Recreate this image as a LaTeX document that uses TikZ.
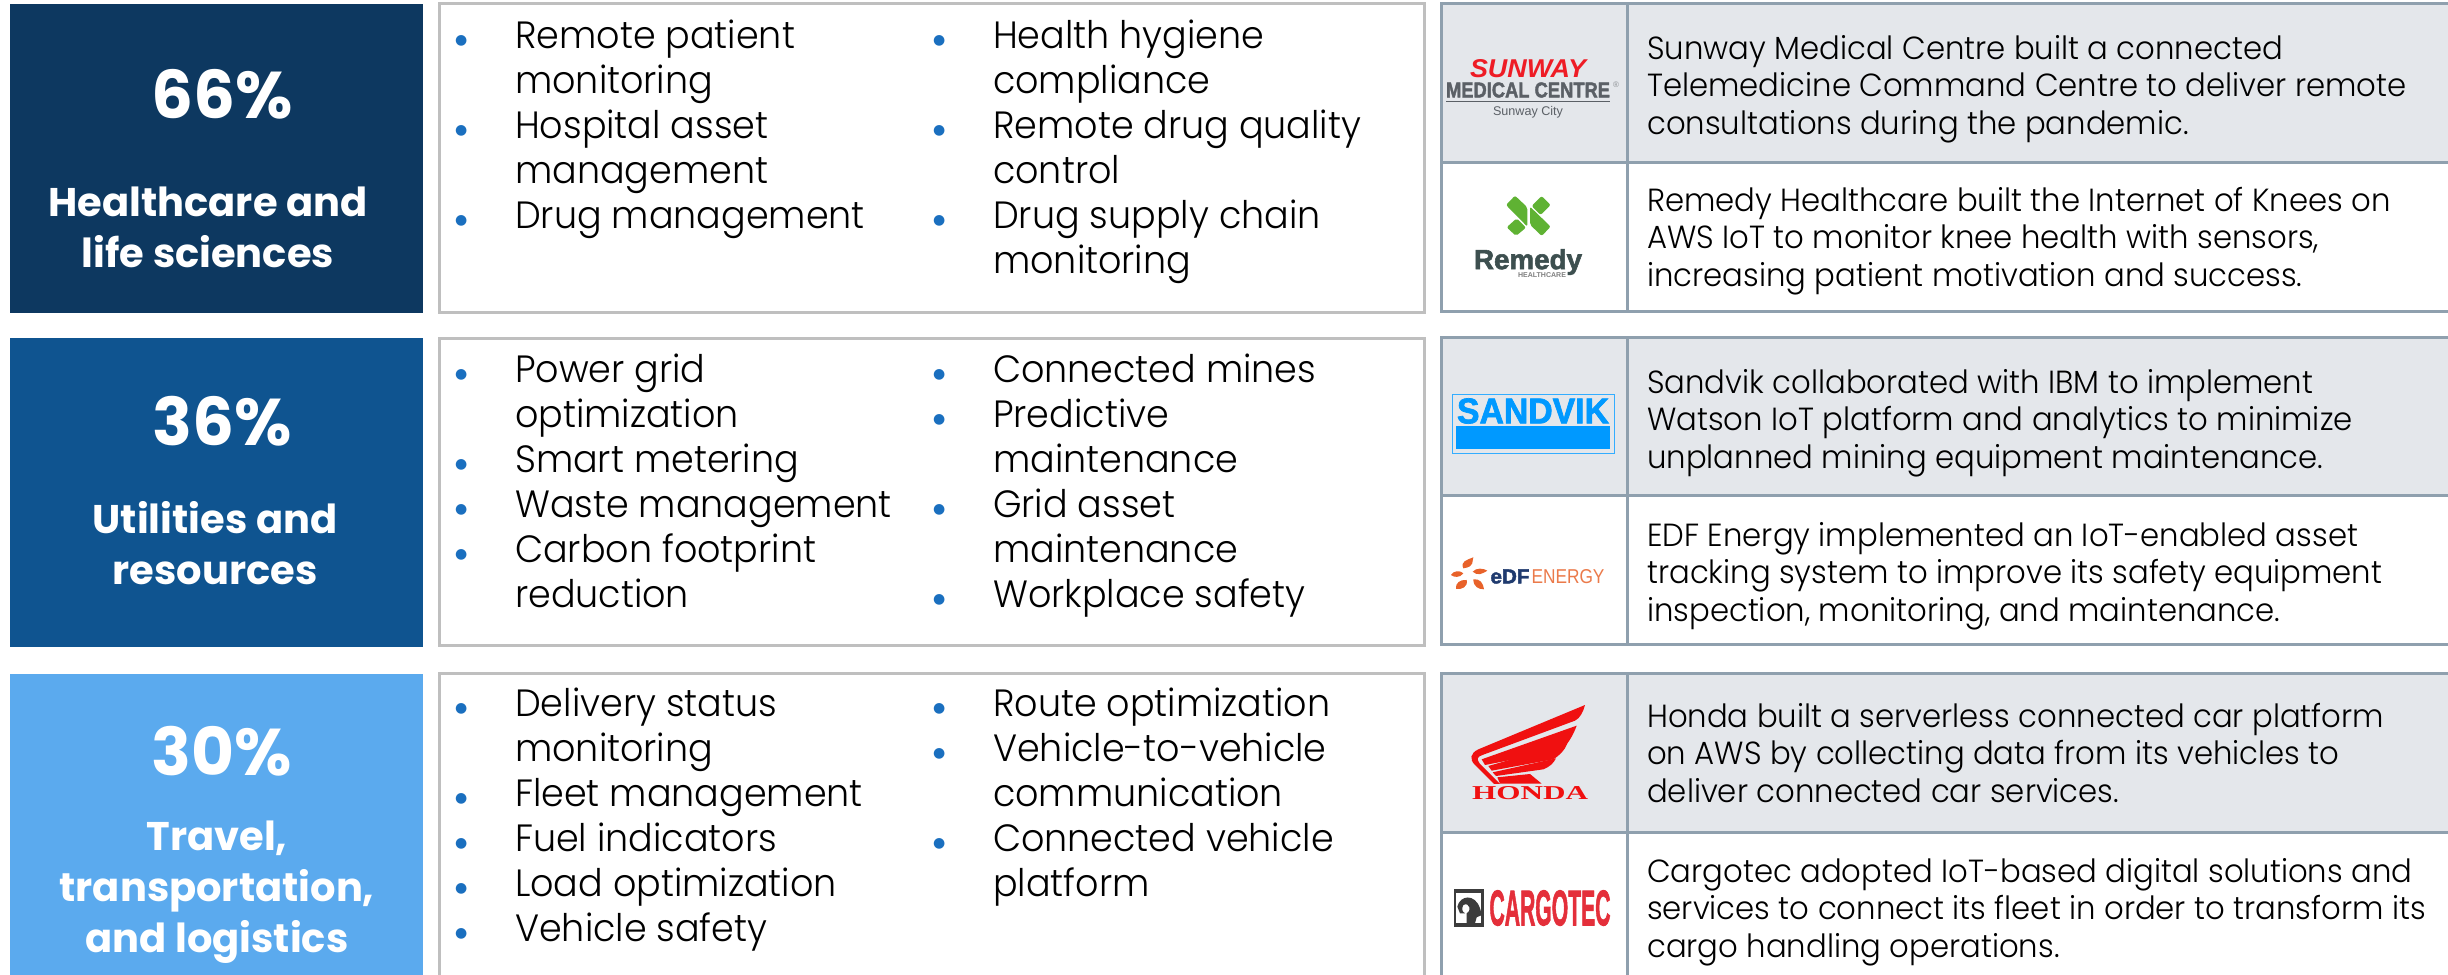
\documentclass[tikz,border=0pt]{standalone}
\usepackage{fontspec}
\setmainfont{Poppins}
\newfontfamily\lsans{Liberation Sans}
\newfontfamily\lheavy[BoldFeatures={FakeBold=2}]{Liberation Sans}
\newfontfamily\lserif{Liberation Serif}
\newfontfamily\djv{DejaVu Sans}
\newfontfamily\pstr[FakeStretch=0.96]{Poppins Light}
\definecolor{navy}{HTML}{0D3860}
\definecolor{midblue}{HTML}{0F5490}
\definecolor{skyblue}{HTML}{5BAAEE}
\definecolor{bul}{HTML}{1A6FBF}
\definecolor{midedge}{HTML}{BFBFBF}
\definecolor{tabedge}{HTML}{8FA0AE}
\definecolor{tabfill}{HTML}{E4E7EB}
\definecolor{sunred}{HTML}{EE1C25}
\definecolor{sungrey}{HTML}{5B6066}
\definecolor{remgreen}{HTML}{5FB233}
\definecolor{remdark}{HTML}{3D4F4F}
\definecolor{sandblue}{HTML}{0099FF}
\definecolor{edforange}{HTML}{E8622A}
\definecolor{edfnavy}{HTML}{1F3A6E}
\definecolor{hondared}{HTML}{F01010}
\definecolor{cargored}{HTML}{E42F3A}
\definecolor{cargodark}{HTML}{3C3C3C}
\newcommand{\bu}{\makebox[62pt][l]{\hspace*{2pt}\raisebox{4.5pt}{\textcolor{bul}{\djv\fontsize{14}{14}\selectfont ●}}}}
\newcommand{\nb}{\hspace*{62pt}}
\tikzset{
 x=1pt,y=-1pt,
 band/.style={anchor=north west,inner sep=0pt,outer sep=0pt,minimum width=413pt,minimum height=#1},
 listbox/.style={draw=midedge,line width=3pt,fill=white,anchor=north west,inner sep=0pt,outer sep=0pt,minimum width=985pt,minimum height=#1},
 cell/.style={draw=tabedge,line width=3pt,anchor=north west,inner sep=0pt,outer sep=0pt},
 logocell/.style={cell,minimum width=187pt,minimum height=#1},
 textcell/.style={cell,minimum width=860pt,minimum height=#1},
 pct/.style={text=white,font=\fontsize{66}{70}\selectfont\bfseries,anchor=center,inner sep=0pt},
 sector/.style={text=white,font=\fontsize{40}{51}\selectfont\bfseries,align=center,anchor=center,inner sep=0pt},
 lst/.style={anchor=north west,inner sep=0pt,align=left,font=\pstr\fontsize{38}{45}\selectfont,text=black},
 desc/.style={anchor=north west,inner sep=0pt,align=left,font=\pstr\fontsize{32}{37.5}\selectfont,text=black},
 logotxt/.style={inner sep=0pt,outer sep=0pt,anchor=center},
}
\begin{document}
\begin{tikzpicture}
\useasboundingbox (0,0) rectangle (2448,974);
\clip (0,0) rectangle (2448,974);
% bands
\node[band=309pt,fill=navy] (b1) at (10,4) {};
\node[band=309pt,fill=midblue] (b2) at (10,338) {};
\node[band=310pt,fill=skyblue] (b3) at (10,674) {};
\node[pct] (p1) at (222,94) {66\%};
\node[sector] (s1) at (208,227) {Healthcare and\\life sciences};
\node[pct] (p2) at (222,421) {36\%};
\node[sector] (s2) at (215,543) {Utilities and\\resources};
\node[pct] (p3) at (222,751) {30\%};
\node[sector] (s3) at (217,892) {Travel,\\transportation,\\and logistics};
% list boxes
\node[listbox=308pt] (m1) at (439,4) {};
\node[listbox=307pt] (m2) at (439,338) {};
\node[listbox=320pt] (m3) at (439,673) {};
\node[lst] (l1a) at (453,20) {\bu Remote patient\\\nb monitoring\\\bu Hospital asset\\\nb management\\\bu Drug management};
\node[lst] (l1b) at (931,20) {\bu Health hygiene\\\nb compliance\\\bu Remote drug quality\\\nb control\\\bu Drug supply chain\\\nb monitoring};
\node[lst] (l2a) at (453,354) {\bu Power grid\\\nb optimization\\\bu Smart metering\\\bu Waste management\\\bu Carbon footprint\\\nb reduction};
\node[lst] (l2b) at (931,354) {\bu Connected mines\\\bu Predictive\\\nb maintenance\\\bu Grid asset\\\nb maintenance\\\bu Workplace safety};
\node[lst] (l3a) at (453,688) {\bu Delivery status\\\nb monitoring\\\bu Fleet management\\\bu Fuel indicators\\\bu Load optimization\\\bu Vehicle safety};
\node[lst] (l3b) at (931,688) {\bu Route optimization\\\bu Vehicle-to-vehicle\\\nb communication\\\bu Connected vehicle\\\nb platform};
% table cells
\node[logocell=158pt,fill=tabfill] (t1a) at (1441,4) {};
\node[textcell=158pt,fill=tabfill] (t1b) at (1627,4) {};
\node[logocell=149pt,fill=white] (t2a) at (1441,162) {};
\node[textcell=149pt,fill=white] (t2b) at (1627,162) {};
\node[logocell=158pt,fill=tabfill] (t3a) at (1441,337) {};
\node[textcell=158pt,fill=tabfill] (t3b) at (1627,337) {};
\node[logocell=149pt,fill=white] (t4a) at (1441,495) {};
\node[textcell=149pt,fill=white] (t4b) at (1627,495) {};
\node[logocell=159pt,fill=tabfill] (t5a) at (1441,673) {};
\node[textcell=159pt,fill=tabfill] (t5b) at (1627,673) {};
\node[logocell=160pt,fill=white] (t6a) at (1441,832) {};
\node[textcell=160pt,fill=white] (t6b) at (1627,832) {};
% descriptions
\node[desc] (d1) at (1647,35) {Sunway Medical Centre built a connected\\Telemedicine Command Centre to deliver remote\\consultations during the pandemic.};
\node[desc] (d2) at (1647,187) {Remedy Healthcare built the Internet of Knees on\\AWS IoT to monitor knee health with sensors,\\increasing patient motivation and success.};
\node[desc] (d3) at (1647,369) {Sandvik collaborated with IBM to implement\\Watson IoT platform and analytics to minimize\\unplanned mining equipment maintenance.};
\node[desc] (d4) at (1647,522) {EDF Energy implemented an IoT-enabled asset\\tracking system to improve its safety equipment\\inspection, monitoring, and maintenance.};
\node[desc] (d5) at (1647,703) {Honda built a serverless connected car platform\\on AWS by collecting data from its vehicles to\\deliver connected car services.};
\node[desc] (d6) at (1647,858) {Cargotec adopted IoT-based digital solutions and\\services to connect its fleet in order to transform its\\cargo handling operations.};
% Sunway logo
\node[logotxt] (su1) at (1528,68.5) {\textcolor{sunred}{\resizebox{116pt}{18pt}{\lheavy\bfseries\itshape SUNWAY}}};
\node[logotxt] (su2) at (1528,90) {\textcolor{sungrey}{\resizebox{164pt}{15pt}{\lheavy\bfseries MEDICAL CENTRE}}};
\node[logotxt] (su3) at (1528,112) {\textcolor{sungrey}{\resizebox{70pt}{!}{\lsans Sunway City}}};
\node[logotxt] (su4) at (1616,85) {\textcolor{sungrey!70}{\fontsize{8}{8}\lsans ®}};
\coordinate (su5) at (1446,101.5); \coordinate (su6) at (1610,101.5);
\draw[sungrey,line width=1pt] (su5) -- (su6);
% Remedy logo
\begin{scope}[shift={(1420,0)},x=0.3333pt,y=-0.3333pt]
 \fill[remgreen,rounded corners=2pt] (258,615)--(285,587)--(322,622)--(322,680)--cycle;
 \fill[remgreen,rounded corners=2pt] (330,620)--(392,680)--(365,708)--(330,674)--cycle;
 \fill[remgreen,rounded corners=2pt] (335,618)--(365,588)--(392,615)--(362,645)--cycle;
 \fill[remgreen,rounded corners=2pt] (260,682)--(290,655)--(318,683)--(288,708)--cycle;
\end{scope}
\node[logotxt] (re1) at (1528,262) {\textcolor{remdark}{\resizebox{108pt}{!}{\lheavy\bfseries Remedy}}};
\node[logotxt] (re2) at (1542,275.5) {\textcolor{gray}{\resizebox{48pt}{!}{\lsans\bfseries HEALTHCARE}}};
% Sandvik logo
\node[draw=sandblue!80,line width=1pt,minimum width=162pt,minimum height=59pt,inner sep=0pt,anchor=center] (sa0) at (1533,424) {};
\node[logotxt] (sa1) at (1533,411) {\textcolor{sandblue}{\resizebox{152pt}{25pt}{\lheavy\bfseries SANDVIK}}};
\node[fill=sandblue,minimum width=154pt,minimum height=23pt,inner sep=0pt,anchor=center] (sa2) at (1533,437) {};
% EDF logo
\begin{scope}[shift={(1420,330)},x=0.3333pt,y=-0.3333pt]
 \fill[edforange] (130,715)..controls (120,695) and (140,690)..(160,682)..controls (155,695) and (165,710)..(130,715)--cycle;
 \fill[edforange] (158,725)..controls (170,712) and (190,715)..(202,722)..controls (190,730) and (172,740)..(158,725)--cycle;
 \fill[edforange] (160,748)..controls (180,745) and (190,760)..(192,778)..controls (175,778) and (160,770)..(160,748)--cycle;
 \fill[edforange] (140,750)..controls (145,770) and (125,780)..(108,777)..controls (105,760) and (120,748)..(140,750)--cycle;
 \fill[edforange] (130,730)..controls (120,745) and (100,742)..(93,735)..controls (100,722) and (120,720)..(130,730)--cycle;
\end{scope}
\node[logotxt,anchor=west] (ed1) at (1490.5,576.5) {\textcolor{edfnavy}{\resizebox{39pt}{14pt}{\lheavy\bfseries eDF}}};
\node[logotxt,anchor=west] (ed2) at (1531.5,576.5) {\textcolor{edforange!85}{\resizebox{73pt}{14pt}{\lsans ENERGY}}};
% Honda logo
\begin{scope}[shift={(1420,660)},x=0.3333pt,y=-0.3333pt]
 \fill[hondared] (495,135)--(175,268)..controls (150,280) and (148,298)..(165,315)--(222,372)--(240,372)--(180,312)..controls (168,296) and (172,290)..(190,284)--(465,182)..controls (480,175) and (490,155)..(495,135)--cycle;
 \fill[hondared] (470,197)--(185,298)--(195,315)--(425,270)..controls (445,250) and (460,225)..(470,197)--cycle;
 \fill[hondared] (442,250)--(205,318)--(215,332)--(400,298)..controls (420,285) and (435,270)..(442,250)--cycle;
 \fill[hondared] (408,295)--(218,337)--(228,348)--(370,328)..controls (390,320) and (400,310)..(408,295)--cycle;
 \fill[hondared] (330,342)--(365,371)--(240,371)--(232,352)--cycle;
\end{scope}
\node[logotxt] (ho1) at (1530,793) {\textcolor{hondared}{\resizebox{116pt}{13pt}{\lserif\bfseries HONDA}}};
% Cargotec logo
\node[fill=cargodark,minimum width=30pt,minimum height=38pt,inner sep=0pt,anchor=center] (ca0) at (1469,908) {};
\node[fill=white,minimum width=25pt,minimum height=30pt,inner sep=0pt,anchor=north west] (ca1) at (1456,893) {};
\begin{scope}[shift={(1420,660)},x=0.3333pt,y=-0.3333pt]
 \fill[cargodark] (112,740)..controls (120,705) and (165,700)..(180,745)--(186,765)--(170,772)--(165,790)--(140,790)--(140,760)..controls (155,755) and (150,725)..(130,735)..controls (125,745) and (125,755)..(135,760)--(120,760)--cycle;
\end{scope}
\node[logotxt] (ca2) at (1550,908) {\textcolor{cargored}{\resizebox{121pt}{35pt}{\lheavy\bfseries CARGOTEC}}};
\end{tikzpicture}
\end{document}
